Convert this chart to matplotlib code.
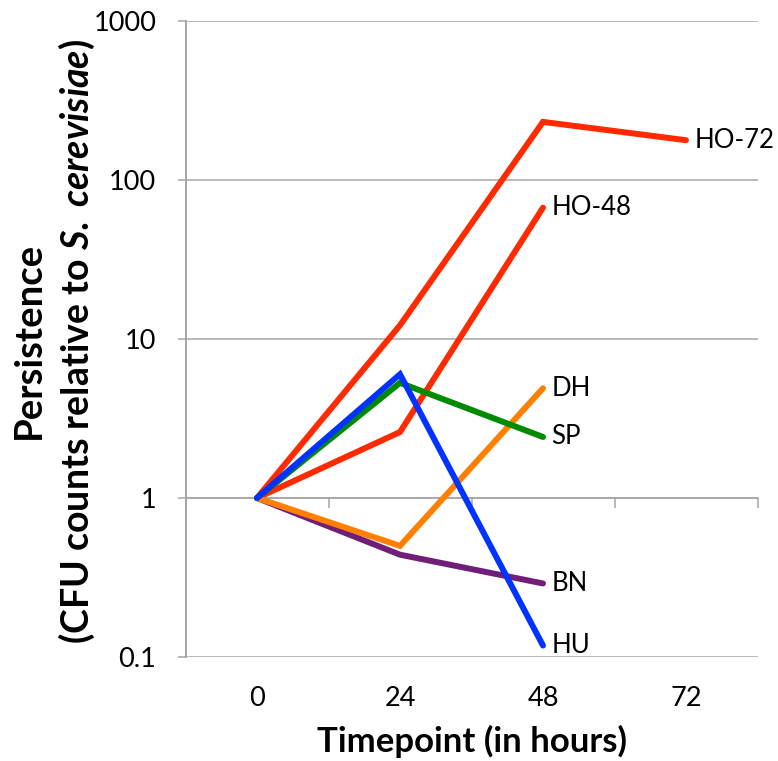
import matplotlib
matplotlib.use("Agg")
import matplotlib.pyplot as plt
from matplotlib.ticker import FixedLocator, NullLocator, NullFormatter

timepoints = ["0", "24", "48", "72"]
ho72 = [1, 12.2, 232, 178]
ho48 = [1, 2.6, 67]
hu = [1, 6.0, 0.118]
sp = [1, 5.3, 2.42]
dh = [1, 0.50, 4.9]
bn = [1, 0.44, 0.29]

series = [
    ("HO-72", ho72, "#ff2a00"),
    ("HO-48", ho48, "#ff2a00"),
    ("BN", bn, "#701e78"),
    ("DH", dh, "#ff8000"),
    ("SP", sp, "#008a00"),
    ("HU", hu, "#0033ff"),
]
ytick_vals = [0.1, 1, 10, 100, 1000]
ytick_labels = ["0.1", "1", "10", "100", "1000"]

plt.rcParams['font.family'] = ['Lato', 'DejaVu Sans']
plt.rcParams['mathtext.fontset'] = 'custom'
plt.rcParams['mathtext.it'] = 'Lato:italic:bold'
plt.rcParams['mathtext.rm'] = 'Lato:bold'

fig = plt.figure(figsize=(7.78, 7.61), dpi=100)
ax = fig.add_axes([185.5/778, 1-657/761, 572/778, 636/761])
ax.set_yscale('log')
ax.set_ylim(0.1, 1000)
ax.set_xlim(-0.5, 3.5)

grid_c = "#a6a6a6"
ax.yaxis.set_major_locator(FixedLocator(ytick_vals))
ax.yaxis.set_minor_locator(NullLocator())
ax.set_yticklabels(ytick_labels)
ax.yaxis.grid(True, color=grid_c, linewidth=1.1)
ax.set_axisbelow(True)
ax.tick_params(axis='y', which='major', length=6, width=1.1, color=grid_c,
               labelsize=19.5, pad=15)

for name in ['top', 'right', 'bottom']:
    ax.spines[name].set_visible(False)
ax.spines['left'].set_color(grid_c)
ax.spines['left'].set_linewidth(1.4)

ax.set_xticks(range(len(timepoints)))
ax.set_xticklabels(timepoints)
ax.tick_params(axis='x', which='major', length=0, labelsize=19.5, pad=21)

# category axis crossing at y = 1
sec = ax.secondary_xaxis(0.25)
sec.set_xticks([i - 0.5 for i in range(len(timepoints) + 1)])
sec.xaxis.set_major_formatter(NullFormatter())
sec.tick_params(axis='x', length=7, width=1.1, color=grid_c, direction='out')
sec.spines['bottom'].set_color(grid_c)
sec.spines['bottom'].set_linewidth(1.1)

for name, vals, col in series:
    xs = list(range(len(vals)))
    ax.plot(xs, vals, color=col, linewidth=4.3, solid_capstyle='round',
            solid_joinstyle='miter', zorder=3)
    ax.annotate(name, xy=(xs[-1], vals[-1]), xytext=(6, 0),
                textcoords='offset points', va='center', ha='left',
                fontsize=18.5, color='black', annotation_clip=False)

ax.set_xlabel("Timepoint (in hours)", fontsize=25, fontweight='bold', labelpad=10)
fig.text(29/778, 1-340/761, "Persistence", rotation=90, fontsize=27.5,
         fontweight='bold', ha='center', va='center')
fig.text(77/778, 1-342/761,
         r"(CFU counts relative to $\mathit{S.}$ $\mathit{cerevisiae}$)",
         rotation=90, fontsize=27, fontweight='bold', ha='center', va='center')

fig.savefig("out.png", dpi=100)
